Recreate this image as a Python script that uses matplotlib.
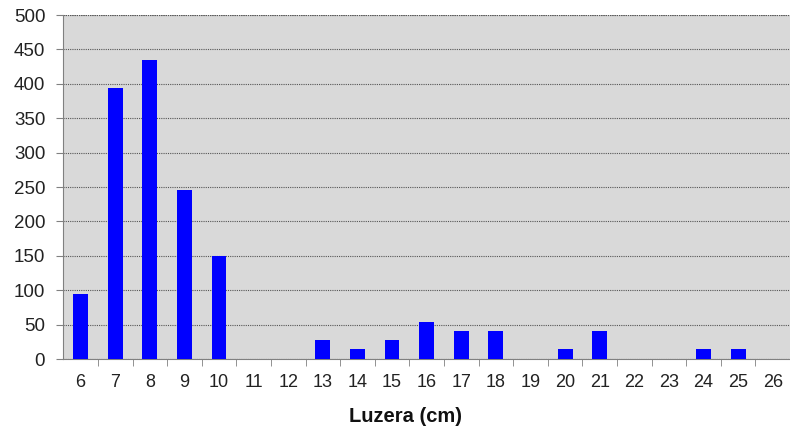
import matplotlib.pyplot as plt

# datos
luzera = [6, 7, 8, 9, 10, 11, 12, 13, 14, 15, 16, 17, 18, 19, 20, 21, 22, 23, 24, 25, 26]
kopurua = [95, 394, 435, 245, 150, 0, 0, 27, 14, 27, 54, 41, 41, 0, 14, 41, 0, 0, 14, 14, 0]
y_ticks = [0, 50, 100, 150, 200, 250, 300, 350, 400, 450, 500]

plt.rcParams['font.family'] = ['Liberation Sans', 'DejaVu Sans']

fig = plt.figure(figsize=(7.9, 4.28), dpi=100)
ax = fig.add_axes([63.3 / 790, (428 - 359) / 428, (790 - 63.3) / 790, (359 - 15) / 428])
ax.set_facecolor('#d9d9d9')

ax.bar(luzera, kopurua, width=0.43, color='#0000ff', zorder=3)

ax.set_xlim(5.5, 5.5 + (790 - 63.3) / 35)
ax.set_ylim(0, 500)
ax.set_yticks(y_ticks)
ax.set_xticks(luzera)
ax.set_xticks([x + 0.5 for x in luzera], minor=True)
ax.tick_params(axis='x', which='major', length=0, labelsize=13, pad=11, colors='#222222')
ax.tick_params(axis='x', which='minor', length=5, color='#808080', direction='out')
ax.tick_params(axis='y', length=5, color='#808080', labelsize=13.5, pad=8, labelcolor='#222222')

ax.yaxis.grid(True, color='#555555', linestyle=(0, (1, 1)), linewidth=0.8, zorder=1)
ax.axhline(500, color='#555555', linestyle=(0, (1, 1)), linewidth=0.8, zorder=1)

for s in ['top', 'right']:
    ax.spines[s].set_visible(False)
ax.spines['left'].set_color('#808080')
ax.spines['bottom'].set_color('#808080')

fig.text(406 / 790, 1 - 416 / 428, 'Luzera (cm)', fontsize=14.5, fontweight='bold',
         color='#111111', ha='center', va='center')

plt.savefig('out.png', dpi=100)
